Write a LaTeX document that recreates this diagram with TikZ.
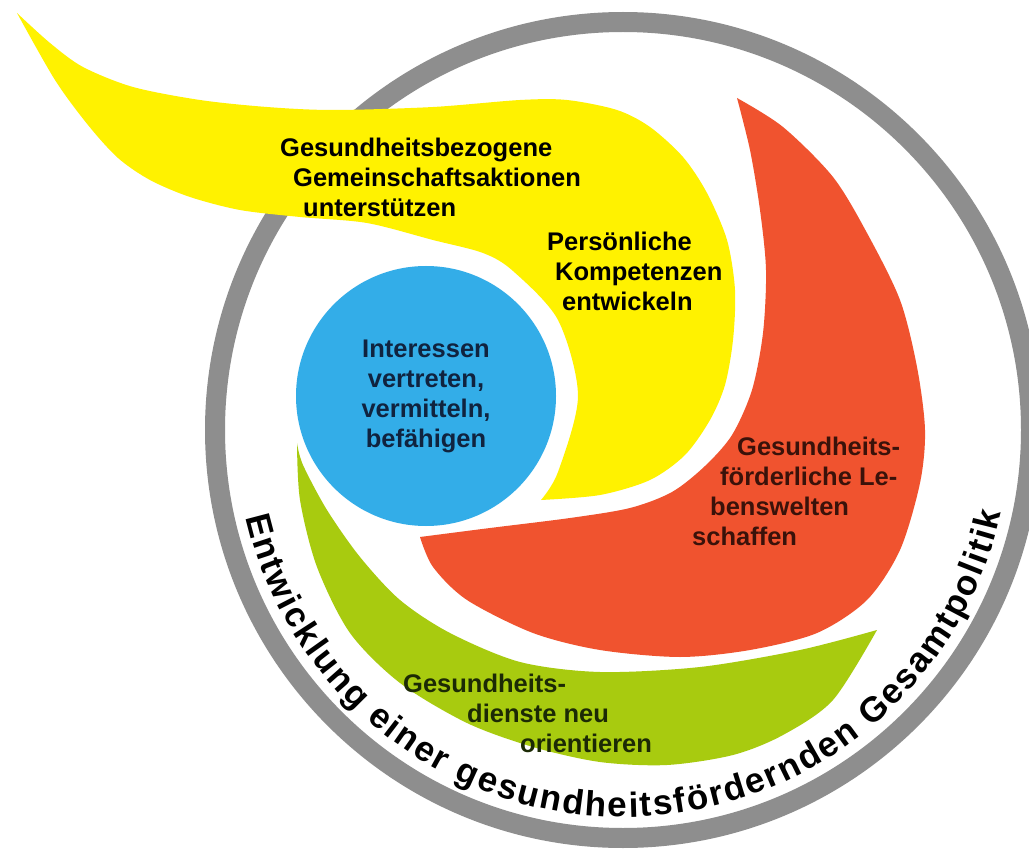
\documentclass[tikz,border=0pt]{standalone}
\usepackage{fontspec}
\setmainfont{Liberation Sans}
\usetikzlibrary{decorations.text}

\definecolor{ringgray}{HTML}{8E8E8E}
\definecolor{flameyellow}{HTML}{FFF200}
\definecolor{flamered}{HTML}{F0532F}
\definecolor{flamegreen}{HTML}{A8CB0F}
\definecolor{corebeblue}{HTML}{33ADE8}
\definecolor{bluetext}{HTML}{10233F}
\definecolor{redtext}{HTML}{3A120A}
\definecolor{greentext}{HTML}{1C2A05}

\begin{document}
\begin{tikzpicture}[x=1pt, y=-1pt]
	\tikzset{
		lbl/.style={font=\bfseries\fontsize{25.5}{30}\selectfont, align=left, inner sep=0pt, anchor=north west},
	}
	\useasboundingbox (0,0) rectangle (1029,853);
	\fill[white] (0,0) rectangle (1029,853);

	% outer ring
	\coordinate (mid) at (623,430);
	\draw[ringgray, line width=20pt] (mid) circle[radius=408];

	% yellow flame
	\fill[flameyellow] plot[smooth] coordinates {(17,13) (50,43) (83,67) (133,87) (200,100) (267,107) (333,110) (433,107) (520,100) (567,100) (617,110) (650,127) (683,157) (707,193) (727,240) (735,290) (733,340) (725,385) (710,420) (685,455) (650,480) (600,495) (541,500)}
		-- plot[smooth] coordinates {(541,500) (558,472) (578,396) (558,320) (513,271) (483,253) (433,240) (367,223) (300,217) (240,210) (190,197) (150,180) (118,158) (88,125) (55,80) (17,13)} -- cycle;

	% red flame
	\fill[flamered] plot[smooth] coordinates {(737,98) (783,127) (833,177) (867,233) (900,300) (917,367) (925,430) (920,483) (900,550) (867,600) (817,633) (750,650) (680,657) (600,650) (533,633) (467,600) (433,567) (420,537)}
		-- plot[smooth] coordinates {(420,537) (490,528) (570,518) (630,508) (672,492) (705,466) (732,435) (752,390) (763,333) (766,270) (760,210) (750,150) (737,98)} -- cycle;

	% green flame
	\fill[flamegreen] plot[smooth] coordinates {(297,443) (300,500) (317,567) (350,633) (400,683) (467,723) (533,747) (600,762) (667,765) (733,755) (783,735) (833,700) (877,630)}
		-- plot[smooth] coordinates {(877,630) (800,650) (700,667) (600,672) (520,662) (450,633) (400,600) (360,557) (327,510) (303,465) (297,443)} -- cycle;

	% blue core
	\node[circle, fill=corebeblue, minimum size=260pt, inner sep=0pt, text=bluetext,
		font=\bfseries\fontsize{25.5}{30}\selectfont, align=center] (core) at (426,396)
		{Interessen\\vertreten,\\vermitteln,\\befähigen};

	\node[lbl] (community) at (280,138) {Gesundheitsbezogene\\ \hspace*{13pt}Gemeinschaftsaktionen\\ \hspace*{23pt}unterstützen};
	\node[lbl] (skills) at (547,232) {Persönliche\\ \hspace*{8pt}Kompetenzen\\ \hspace*{15pt}entwickeln};
	\node[lbl, text=redtext] (settings) at (692,437) {\hspace*{45pt}Gesundheits-\\ \hspace*{28pt}förderliche Le-\\ \hspace*{18pt}benswelten\\ schaffen};
	\node[lbl, text=greentext] (services) at (403,674) {Gesundheits-\\ \hspace*{64pt}dienste neu\\ \hspace*{117pt}orientieren};

	% text along the ring
	\path[decorate, decoration={text along path, text align={fit to path},
		text={|\bfseries\fontsize{35}{35}\selectfont|Entwicklung einer gesundheitsfördernden Gesamtpolitik}}]
		(mid) ++(167:387) arc[start angle=167, end angle=12.4, radius=387];
\end{tikzpicture}
\end{document}
